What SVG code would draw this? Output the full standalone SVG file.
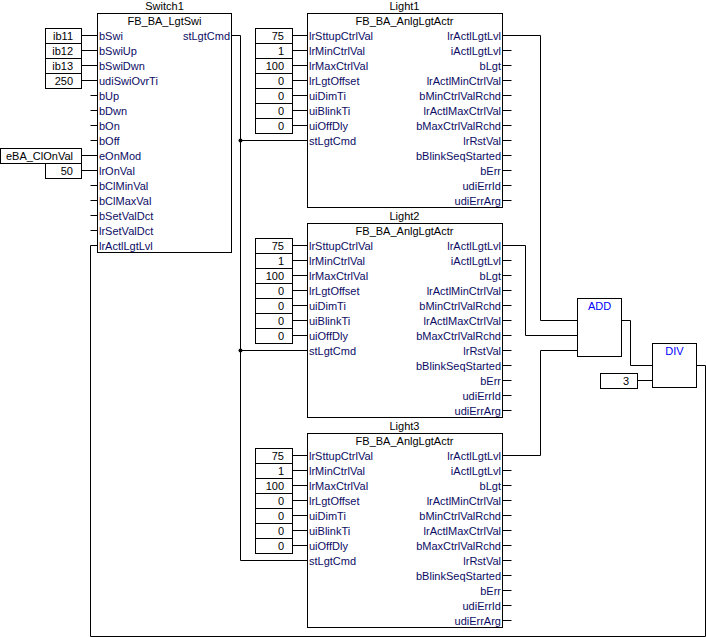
<svg xmlns="http://www.w3.org/2000/svg" width="706" height="637" viewBox="0 0 706 637">
<style>
text{font-family:"Liberation Sans",Arial,sans-serif;font-size:11px}
.t{fill:#000;text-anchor:middle}
.p{fill:#0c0c64}
.pr{fill:#0c0c64;text-anchor:end}
.c{fill:#000;text-anchor:end}
.op{fill:#0000ff;text-anchor:middle}
rect{fill:#fff;stroke:#000;stroke-width:1}
path,line{fill:none;stroke:#000;stroke-width:1}
</style>
<rect x="0" y="0" width="706" height="637" style="stroke:none;fill:#fff"/>

<g id="connectors">
<path d="M81.5,35.5H97.5M81.5,50.5H97.5M81.5,65.5H97.5M81.5,80.5H97.5M81.5,155.5H97.5M81.5,170.5H97.5"/>
<path d="M292.5,35.5H307.5M292.5,50.5H307.5M292.5,65.5H307.5M292.5,80.5H307.5M292.5,95.5H307.5M292.5,110.5H307.5M292.5,125.5H307.5"/>
<path d="M292.5,245.5H307.5M292.5,260.5H307.5M292.5,275.5H307.5M292.5,290.5H307.5M292.5,305.5H307.5M292.5,320.5H307.5M292.5,335.5H307.5"/>
<path d="M292.5,455.5H307.5M292.5,470.5H307.5M292.5,485.5H307.5M292.5,500.5H307.5M292.5,515.5H307.5M292.5,530.5H307.5M292.5,545.5H307.5"/>
<path d="M231.5,35.5H240.5V560.5H307.5M240.5,140.5H307.5M240.5,350.5H307.5"/>
<circle cx="240.5" cy="140.5" r="2" fill="#000"/>
<circle cx="240.5" cy="350.5" r="2" fill="#000"/>
<path d="M502.5,35.5H540.5V320.5H577.5"/>
<path d="M502.5,245.5H525.5V335.5H577.5"/>
<path d="M502.5,455.5H540.5V350.5H577.5"/>
<path d="M621.5,320.5H630.5V365.5H652.5"/>
<path d="M637.5,380.5H652.5"/>
<path d="M696.5,365.5H705.5V636.5H90.5V245.5H97.5"/>
</g>

<g id="Switch1">
<text class="t" x="164.5" y="10">Switch1</text>
<rect x="97.5" y="13.5" width="134" height="239"/>
<text class="t" x="164.5" y="25">FB_BA_LgtSwi</text>
<path d="M90.5,95.5H97.5M90.5,110.5H97.5M90.5,125.5H97.5M90.5,140.5H97.5M90.5,185.5H97.5M90.5,200.5H97.5M90.5,215.5H97.5M90.5,230.5H97.5"/>
<text class="p" x="99" y="39.5">bSwi</text>
<text class="p" x="99" y="54.5">bSwiUp</text>
<text class="p" x="99" y="69.5">bSwiDwn</text>
<text class="p" x="99" y="84.5">udiSwiOvrTi</text>
<text class="p" x="99" y="99.5">bUp</text>
<text class="p" x="99" y="114.5">bDwn</text>
<text class="p" x="99" y="129.5">bOn</text>
<text class="p" x="99" y="144.5">bOff</text>
<text class="p" x="99" y="159.5">eOnMod</text>
<text class="p" x="99" y="174.5">lrOnVal</text>
<text class="p" x="99" y="189.5">bClMinVal</text>
<text class="p" x="99" y="204.5">bClMaxVal</text>
<text class="p" x="99" y="219.5">bSetValDct</text>
<text class="p" x="99" y="234.5">lrSetValDct</text>
<text class="p" x="99" y="249.5">lrActlLgtLvl</text>
<text class="pr" x="230" y="39.5">stLgtCmd</text>
</g>

<g id="Switch1-inputs">
<rect x="45.5" y="28.5" width="36" height="15"/><text class="c" x="73" y="39.5">ib11</text>
<rect x="45.5" y="43.5" width="36" height="15"/><text class="c" x="73" y="54.5">ib12</text>
<rect x="45.5" y="58.5" width="36" height="15"/><text class="c" x="73" y="69.5">ib13</text>
<rect x="45.5" y="73.5" width="36" height="15"/><text class="c" x="73" y="84.5">250</text>
<rect x="0.5" y="148.5" width="81" height="15"/><text class="c" x="73" y="159.5">eBA_ClOnVal</text>
<rect x="45.5" y="163.5" width="36" height="15"/><text class="c" x="73" y="174.5">50</text>
</g>

<g id="Light1">
<text class="t" x="404.5" y="10">Light1</text>
<rect x="307.5" y="13.5" width="195" height="194"/>
<text class="t" x="404.5" y="25">FB_BA_AnlgLgtActr</text>
<path d="M502.5,50.5H511.5M502.5,65.5H511.5M502.5,80.5H511.5M502.5,95.5H511.5M502.5,110.5H511.5M502.5,125.5H511.5M502.5,140.5H511.5M502.5,155.5H511.5M502.5,170.5H511.5M502.5,185.5H511.5M502.5,200.5H511.5"/>
<text class="p" x="309" y="39.5">lrSttupCtrlVal</text>
<text class="p" x="309" y="54.5">lrMinCtrlVal</text>
<text class="p" x="309" y="69.5">lrMaxCtrlVal</text>
<text class="p" x="309" y="84.5">lrLgtOffset</text>
<text class="p" x="309" y="99.5">uiDimTi</text>
<text class="p" x="309" y="114.5">uiBlinkTi</text>
<text class="p" x="309" y="129.5">uiOffDly</text>
<text class="p" x="309" y="144.5">stLgtCmd</text>
<text class="pr" x="501" y="39.5">lrActlLgtLvl</text>
<text class="pr" x="501" y="54.5">iActlLgtLvl</text>
<text class="pr" x="501" y="69.5">bLgt</text>
<text class="pr" x="501" y="84.5">lrActlMinCtrlVal</text>
<text class="pr" x="501" y="99.5">bMinCtrlValRchd</text>
<text class="pr" x="501" y="114.5">lrActlMaxCtrlVal</text>
<text class="pr" x="501" y="129.5">bMaxCtrlValRchd</text>
<text class="pr" x="501" y="144.5">lrRstVal</text>
<text class="pr" x="501" y="159.5">bBlinkSeqStarted</text>
<text class="pr" x="501" y="174.5">bErr</text>
<text class="pr" x="501" y="189.5">udiErrId</text>
<text class="pr" x="501" y="204.5">udiErrArg</text>
<rect x="255.5" y="28.5" width="37" height="15"/><text class="c" x="284" y="39.5">75</text>
<rect x="255.5" y="43.5" width="37" height="15"/><text class="c" x="284" y="54.5">1</text>
<rect x="255.5" y="58.5" width="37" height="15"/><text class="c" x="284" y="69.5">100</text>
<rect x="255.5" y="73.5" width="37" height="15"/><text class="c" x="284" y="84.5">0</text>
<rect x="255.5" y="88.5" width="37" height="15"/><text class="c" x="284" y="99.5">0</text>
<rect x="255.5" y="103.5" width="37" height="15"/><text class="c" x="284" y="114.5">0</text>
<rect x="255.5" y="118.5" width="37" height="15"/><text class="c" x="284" y="129.5">0</text>
</g>

<g id="Light2">
<text class="t" x="404.5" y="220">Light2</text>
<rect x="307.5" y="223.5" width="195" height="194"/>
<text class="t" x="404.5" y="235">FB_BA_AnlgLgtActr</text>
<path d="M502.5,260.5H511.5M502.5,275.5H511.5M502.5,290.5H511.5M502.5,305.5H511.5M502.5,320.5H511.5M502.5,335.5H511.5M502.5,350.5H511.5M502.5,365.5H511.5M502.5,380.5H511.5M502.5,395.5H511.5M502.5,410.5H511.5"/>
<text class="p" x="309" y="249.5">lrSttupCtrlVal</text>
<text class="p" x="309" y="264.5">lrMinCtrlVal</text>
<text class="p" x="309" y="279.5">lrMaxCtrlVal</text>
<text class="p" x="309" y="294.5">lrLgtOffset</text>
<text class="p" x="309" y="309.5">uiDimTi</text>
<text class="p" x="309" y="324.5">uiBlinkTi</text>
<text class="p" x="309" y="339.5">uiOffDly</text>
<text class="p" x="309" y="354.5">stLgtCmd</text>
<text class="pr" x="501" y="249.5">lrActlLgtLvl</text>
<text class="pr" x="501" y="264.5">iActlLgtLvl</text>
<text class="pr" x="501" y="279.5">bLgt</text>
<text class="pr" x="501" y="294.5">lrActlMinCtrlVal</text>
<text class="pr" x="501" y="309.5">bMinCtrlValRchd</text>
<text class="pr" x="501" y="324.5">lrActlMaxCtrlVal</text>
<text class="pr" x="501" y="339.5">bMaxCtrlValRchd</text>
<text class="pr" x="501" y="354.5">lrRstVal</text>
<text class="pr" x="501" y="369.5">bBlinkSeqStarted</text>
<text class="pr" x="501" y="384.5">bErr</text>
<text class="pr" x="501" y="399.5">udiErrId</text>
<text class="pr" x="501" y="414.5">udiErrArg</text>
<rect x="255.5" y="238.5" width="37" height="15"/><text class="c" x="284" y="249.5">75</text>
<rect x="255.5" y="253.5" width="37" height="15"/><text class="c" x="284" y="264.5">1</text>
<rect x="255.5" y="268.5" width="37" height="15"/><text class="c" x="284" y="279.5">100</text>
<rect x="255.5" y="283.5" width="37" height="15"/><text class="c" x="284" y="294.5">0</text>
<rect x="255.5" y="298.5" width="37" height="15"/><text class="c" x="284" y="309.5">0</text>
<rect x="255.5" y="313.5" width="37" height="15"/><text class="c" x="284" y="324.5">0</text>
<rect x="255.5" y="328.5" width="37" height="15"/><text class="c" x="284" y="339.5">0</text>
</g>

<g id="Light3">
<text class="t" x="404.5" y="430">Light3</text>
<rect x="307.5" y="433.5" width="195" height="194"/>
<text class="t" x="404.5" y="445">FB_BA_AnlgLgtActr</text>
<path d="M502.5,470.5H511.5M502.5,485.5H511.5M502.5,500.5H511.5M502.5,515.5H511.5M502.5,530.5H511.5M502.5,545.5H511.5M502.5,560.5H511.5M502.5,575.5H511.5M502.5,590.5H511.5M502.5,605.5H511.5M502.5,620.5H511.5"/>
<text class="p" x="309" y="459.5">lrSttupCtrlVal</text>
<text class="p" x="309" y="474.5">lrMinCtrlVal</text>
<text class="p" x="309" y="489.5">lrMaxCtrlVal</text>
<text class="p" x="309" y="504.5">lrLgtOffset</text>
<text class="p" x="309" y="519.5">uiDimTi</text>
<text class="p" x="309" y="534.5">uiBlinkTi</text>
<text class="p" x="309" y="549.5">uiOffDly</text>
<text class="p" x="309" y="564.5">stLgtCmd</text>
<text class="pr" x="501" y="459.5">lrActlLgtLvl</text>
<text class="pr" x="501" y="474.5">iActlLgtLvl</text>
<text class="pr" x="501" y="489.5">bLgt</text>
<text class="pr" x="501" y="504.5">lrActlMinCtrlVal</text>
<text class="pr" x="501" y="519.5">bMinCtrlValRchd</text>
<text class="pr" x="501" y="534.5">lrActlMaxCtrlVal</text>
<text class="pr" x="501" y="549.5">bMaxCtrlValRchd</text>
<text class="pr" x="501" y="564.5">lrRstVal</text>
<text class="pr" x="501" y="579.5">bBlinkSeqStarted</text>
<text class="pr" x="501" y="594.5">bErr</text>
<text class="pr" x="501" y="609.5">udiErrId</text>
<text class="pr" x="501" y="624.5">udiErrArg</text>
<rect x="255.5" y="448.5" width="37" height="15"/><text class="c" x="284" y="459.5">75</text>
<rect x="255.5" y="463.5" width="37" height="15"/><text class="c" x="284" y="474.5">1</text>
<rect x="255.5" y="478.5" width="37" height="15"/><text class="c" x="284" y="489.5">100</text>
<rect x="255.5" y="493.5" width="37" height="15"/><text class="c" x="284" y="504.5">0</text>
<rect x="255.5" y="508.5" width="37" height="15"/><text class="c" x="284" y="519.5">0</text>
<rect x="255.5" y="523.5" width="37" height="15"/><text class="c" x="284" y="534.5">0</text>
<rect x="255.5" y="538.5" width="37" height="15"/><text class="c" x="284" y="549.5">0</text>
</g>

<g id="ADD">
<rect x="577.5" y="298.5" width="44" height="58"/>
<text class="op" x="599.5" y="310">ADD</text>
</g>

<g id="DIV">
<rect x="652.5" y="343.5" width="44" height="44"/>
<text class="op" x="674.5" y="355">DIV</text>
</g>

<g id="const3">
<rect x="600.5" y="373.5" width="37" height="15"/>
<text class="c" x="629" y="385">3</text>
</g>
</svg>
